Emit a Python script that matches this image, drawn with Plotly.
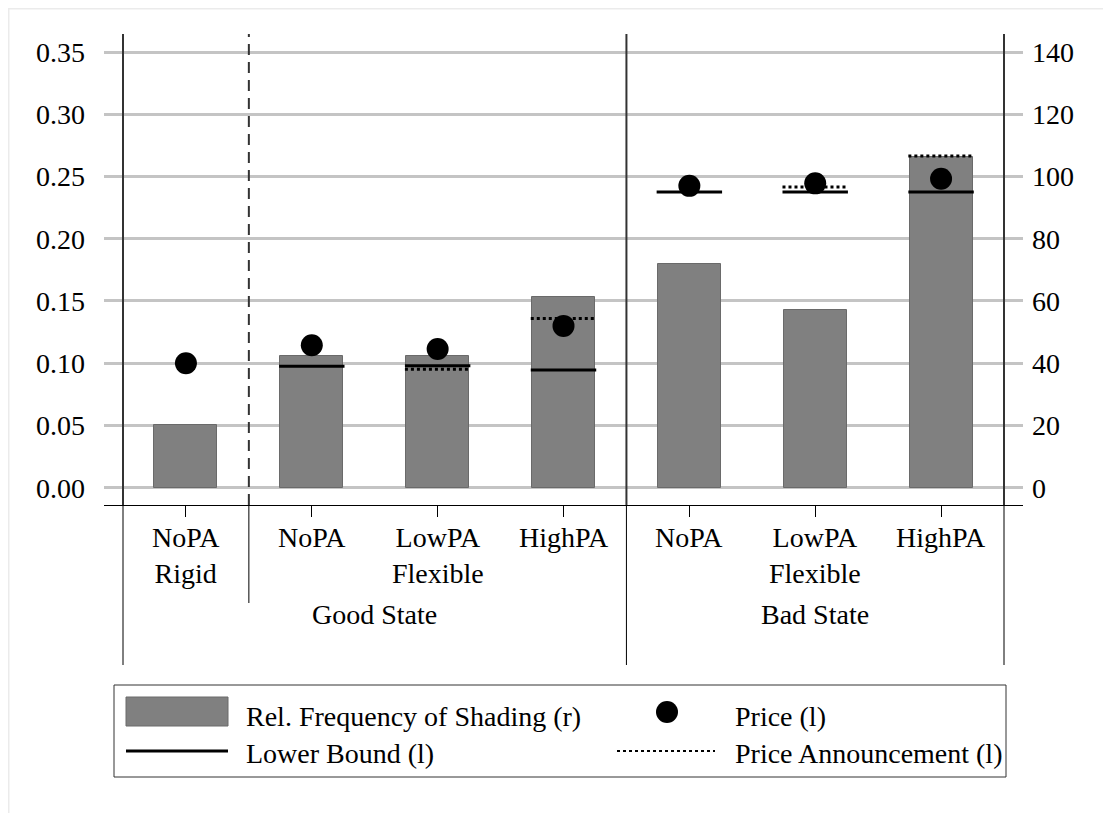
import plotly.graph_objects as go

# ---- data ----
positions = [1, 2, 3, 4, 5, 6, 7]
pa_labels = ["NoPA<br>Rigid", "NoPA", "LowPA<br>Flexible", "HighPA",
             "NoPA", "LowPA<br>Flexible", "HighPA"]
state_labels = ["Good State", "Bad State"]
state_centers = [2.5, 6]
shading_freq = [0.050, 0.106, 0.106, 0.153, 0.180, 0.143, 0.266]
price = [40.0, 45.8, 44.6, 52.0, 97.0, 97.8, 99.3]
lower_bound = [None, 39.0, 39.2, 37.8, 95.0, 95.0, 95.0]
price_announcement = [None, None, 38.1, 54.4, None, 96.6, 106.6]
left_ticks = [0.00, 0.05, 0.10, 0.15, 0.20, 0.25, 0.30, 0.35]
right_ticks = [0, 20, 40, 60, 80, 100, 120, 140]
separators_solid = [0.5, 4.5, 7.5]
separators_dashed = [1.5]

FONT = "Liberation Serif"
OFF = 8  # page body margin
# plot area in page pixel coordinates
L, R, T, B = 104, 1023, 34, 505
W, H = 1111 - OFF, 813 - OFF


def px(xp):
    return (xp - L) / (R - L)


def py(yp):
    return (B - yp) / (B - T)


def segments(vals, half=0.26):
    xs, ys = [], []
    for x, v in zip(positions, vals):
        if v is None:
            continue
        xs += [x - half, x + half, None]
        ys += [v, v, None]
    return xs, ys


fig = go.Figure()

fig.add_trace(go.Bar(
    x=positions, y=shading_freq, width=0.5,
    marker=dict(color="#808080", line=dict(color="#6a6a6a", width=1)),
    name="Rel. Frequency of Shading (r)", yaxis="y",
))

lbx, lby = segments(lower_bound)
fig.add_trace(go.Scatter(
    x=lbx, y=lby, mode="lines", line=dict(color="black", width=3),
    name="Lower Bound (l)", yaxis="y2",
))

pax, pay = segments(price_announcement)
fig.add_trace(go.Scatter(
    x=pax, y=pay, mode="lines", line=dict(color="black", width=3, dash="dot"),
    name="Price Announcement (l)", yaxis="y2",
))

fig.add_trace(go.Scatter(
    x=positions, y=price, mode="markers",
    marker=dict(color="black", size=22),
    name="Price (l)", yaxis="y2",
))

ymin, ymax = -0.0139, 0.3645

shapes = []
# outer light frame
shapes.append(dict(type="rect", xref="paper", yref="paper",
                   x0=px(OFF + 0.5), x1=px(1300), y0=py(1000), y1=py(OFF + 0.5),
                   line=dict(color="#ebebeb", width=2), fillcolor="rgba(0,0,0,0)"))
for s in separators_solid:
    shapes.append(dict(type="line", xref="x", yref="paper", x0=s, x1=s, y0=0, y1=1,
                       line=dict(color="#333333", width=2)))
    shapes.append(dict(type="line", xref="x", yref="paper", x0=s, x1=s, y0=py(665), y1=0,
                       line=dict(color="black", width=1)))
for s in separators_dashed:
    shapes.append(dict(type="line", xref="x", yref="paper", x0=s, x1=s, y0=0, y1=1,
                       line=dict(color="#333333", width=2, dash="11px,7px")))
    shapes.append(dict(type="line", xref="x", yref="paper", x0=s, x1=s, y0=py(603), y1=0,
                       line=dict(color="black", width=1)))

# manual legend
shapes.append(dict(type="rect", xref="paper", yref="paper",
                   x0=px(114), x1=px(1006), y0=py(777), y1=py(685),
                   line=dict(color="#333333", width=1), fillcolor="white"))
shapes.append(dict(type="rect", xref="paper", yref="paper",
                   x0=px(126), x1=px(228), y0=py(726), y1=py(697),
                   line=dict(color="#6a6a6a", width=1), fillcolor="#808080"))
shapes.append(dict(type="line", xref="paper", yref="paper",
                   x0=px(126), x1=px(228), y0=py(751), y1=py(751),
                   line=dict(color="black", width=3)))
shapes.append(dict(type="line", xref="paper", yref="paper",
                   x0=px(617), x1=px(715), y0=py(751), y1=py(751),
                   line=dict(color="black", width=2, dash="dot")))
shapes.append(dict(type="circle", xref="paper", yref="paper",
                   x0=px(656), x1=px(678), y0=py(723), y1=py(701),
                   line=dict(color="black", width=0), fillcolor="black"))

annotations = []
# category labels under each tick
for lab, c in zip(pa_labels, positions):
    annotations.append(dict(text=lab, x=c, xref="x", y=py(520), yref="paper",
                            showarrow=False, xanchor="center", yanchor="top",
                            align="center",
                            font=dict(family=FONT, size=28, color="black")))
for lab, c in zip(state_labels, state_centers):
    annotations.append(dict(text=lab, x=c, xref="x", y=py(614), yref="paper",
                            showarrow=False, xanchor="center", yanchor="middle",
                            font=dict(family=FONT, size=28, color="black")))
leg_items = [("Rel. Frequency of Shading (r)", 244, 716),
             ("Lower Bound (l)", 244, 753),
             ("Price (l)", 733, 716),
             ("Price Announcement (l)", 733, 753)]
for txt, xx, yy in leg_items:
    annotations.append(dict(text=txt, x=px(xx), xref="paper", y=py(yy), yref="paper",
                            showarrow=False, xanchor="left", yanchor="middle",
                            font=dict(family=FONT, size=28, color="black")))

fig.update_layout(
    width=W, height=H,
    margin=dict(l=L - OFF, r=W - (R - OFF), t=T - OFF, b=H - (B - OFF), pad=0),
    paper_bgcolor="white", plot_bgcolor="white",
    showlegend=False,
    font=dict(family=FONT, size=28, color="black"),
    bargap=0,
    xaxis=dict(range=[0.349, 7.651], tickvals=positions, showticklabels=False,
               showgrid=False, zeroline=False, showline=True, linecolor="black",
               linewidth=1, ticks="outside", ticklen=11, tickcolor="black",
               tickwidth=1),
    yaxis=dict(range=[ymin, ymax], tickvals=left_ticks,
               ticktext=[f"{v:.2f}" for v in left_ticks],
               showgrid=True, gridcolor="#c4c4c4", gridwidth=3, zeroline=False,
               showline=False, ticks="", ticklabelstandoff=18,
               tickfont=dict(family=FONT, size=28, color="black")),
    yaxis2=dict(range=[ymin * 400, ymax * 400], tickvals=right_ticks,
                overlaying="y", side="right", showgrid=False, zeroline=False,
                showline=False, ticks="", ticklabelstandoff=8,
                tickfont=dict(family=FONT, size=28, color="black")),
    shapes=shapes,
    annotations=annotations,
)

fig.write_html("out.html")
